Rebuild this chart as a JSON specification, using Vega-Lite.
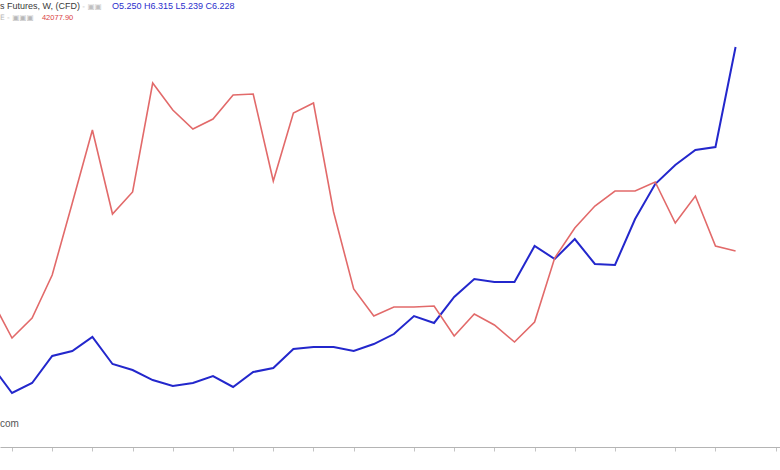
{
  "$schema": "https://vega.github.io/schema/vega-lite/v6.json",
  "width": 780,
  "height": 447,
  "padding": 0,
  "autosize": {"type": "pad"},
  "background": "#ffffff",
  "config": {"view": {"stroke": null}, "axisX": {"labels": false, "grid": false, "domainColor": "#b4b4b4", "tickColor": "#c4c4c4", "tickSize": 4, "domainWidth": 1.2}},
  "data": {
    "values": [
      {"week": -1, "blue": 3.108, "red": 40852.9},
      {"week": 0, "blue": 2.844, "red": 39902.9},
      {"week": 1, "blue": 2.942, "red": 40402.9},
      {"week": 2, "blue": 3.206, "red": 41477.9},
      {"week": 3, "blue": 3.255, "red": 43277.9},
      {"week": 4, "blue": 3.392, "red": 45102.9},
      {"week": 5, "blue": 3.128, "red": 43002.9},
      {"week": 6, "blue": 3.069, "red": 43552.9},
      {"week": 7, "blue": 2.971, "red": 46277.9},
      {"week": 8, "blue": 2.913, "red": 45602.9},
      {"week": 9, "blue": 2.942, "red": 45127.9},
      {"week": 10, "blue": 3.010, "red": 45377.9},
      {"week": 11, "blue": 2.903, "red": 45977.9},
      {"week": 12, "blue": 3.049, "red": 46002.9},
      {"week": 13, "blue": 3.089, "red": 43827.9},
      {"week": 14, "blue": 3.274, "red": 45527.9},
      {"week": 15, "blue": 3.294, "red": 45777.9},
      {"week": 16, "blue": 3.294, "red": 43052.9},
      {"week": 17, "blue": 3.255, "red": 41127.9},
      {"week": 18, "blue": 3.323, "red": 40452.9},
      {"week": 19, "blue": 3.421, "red": 40677.9},
      {"week": 20, "blue": 3.597, "red": 40677.9},
      {"week": 21, "blue": 3.529, "red": 40702.9},
      {"week": 22, "blue": 3.783, "red": 39952.9},
      {"week": 23, "blue": 3.959, "red": 40502.9},
      {"week": 24, "blue": 3.930, "red": 40227.9},
      {"week": 25, "blue": 3.930, "red": 39802.9},
      {"week": 26, "blue": 4.282, "red": 40302.9},
      {"week": 27, "blue": 4.155, "red": 41902.9},
      {"week": 28, "blue": 4.350, "red": 42652.9},
      {"week": 29, "blue": 4.106, "red": 43202.9},
      {"week": 30, "blue": 4.096, "red": 43577.9},
      {"week": 31, "blue": 4.546, "red": 43577.9},
      {"week": 32, "blue": 4.888, "red": 43802.9},
      {"week": 33, "blue": 5.074, "red": 42777.9},
      {"week": 34, "blue": 5.221, "red": 43452.9},
      {"week": 35, "blue": 5.250, "red": 42202.9},
      {"week": 36, "blue": 6.228, "red": 42077.9}
    ]
  },
  "resolve": {"scale": {"y": "independent"}},
  "layer": [
    {
      "layer": [
        {
          "mark": {"type": "line", "color": "#2327cc", "strokeWidth": 2, "clip": true},
          "encoding": {
            "x": {
              "field": "week", "type": "quantitative",
              "scale": {"domain": [-0.597, 38.21], "nice": false, "zero": false},
              "axis": {
                "title": null,
                "values": [0, 2, 4, 6, 8, 11, 13, 15, 17, 20, 22, 24, 26, 28, 30, 33, 35, 38]
              }
            },
            "y": {
              "field": "blue", "type": "quantitative",
              "scale": {"domain": [2.316, 6.688], "nice": false, "zero": false},
              "axis": null
            }
          }
        },
        {
          "data": {"values": [{}]},
          "mark": {"type": "text", "align": "left", "baseline": "alphabetic", "font": "Liberation Sans", "fontSize": 9, "color": "#3a3a3a", "text": "s Futures, W, (CFD)"},
          "encoding": {
            "x": {"datum": -0.597, "type": "quantitative", "title": null},
            "y": {"datum": 6.6, "type": "quantitative", "axis": null}
          }
        },
        {
          "data": {"values": [{}]},
          "mark": {"type": "text", "align": "left", "baseline": "alphabetic", "font": "DejaVu Sans", "fontSize": 7.5, "color": "#c0c0c0", "text": "-  ▣▣"},
          "encoding": {
            "x": {"datum": 3.5, "type": "quantitative", "title": null},
            "y": {"datum": 6.6, "type": "quantitative", "axis": null}
          }
        },
        {
          "data": {"values": [{}]},
          "mark": {"type": "text", "align": "left", "baseline": "alphabetic", "font": "Liberation Sans", "fontSize": 9, "color": "#2a2ecc", "text": "O5.250 H6.315 L5.239 C6.228"},
          "encoding": {
            "x": {"datum": 4.975, "type": "quantitative", "title": null},
            "y": {"datum": 6.6, "type": "quantitative", "axis": null}
          }
        },
        {
          "data": {"values": [{}]},
          "mark": {"type": "text", "align": "left", "baseline": "alphabetic", "font": "DejaVu Sans", "fontSize": 7.5, "color": "#b8b8b8", "text": "E -  ▣▣▣"},
          "encoding": {
            "x": {"datum": -0.597, "type": "quantitative", "title": null},
            "y": {"datum": 6.49, "type": "quantitative", "axis": null}
          }
        },
        {
          "data": {"values": [{}]},
          "mark": {"type": "text", "align": "left", "baseline": "alphabetic", "font": "Liberation Sans", "fontSize": 7.5, "color": "#d9423f", "text": "42077.90"},
          "encoding": {
            "x": {"datum": 1.49, "type": "quantitative", "title": null},
            "y": {"datum": 6.49, "type": "quantitative", "axis": null}
          }
        },
        {
          "data": {"values": [{}]},
          "mark": {"type": "text", "align": "left", "baseline": "alphabetic", "font": "Liberation Sans", "fontSize": 10, "color": "#555555", "text": "com"},
          "encoding": {
            "x": {"datum": -0.597, "type": "quantitative", "title": null},
            "y": {"datum": 2.51, "type": "quantitative", "axis": null}
          }
        }
      ]
    },
    {
      "mark": {"type": "line", "color": "#e26a6a", "strokeWidth": 1.6, "clip": true},
      "encoding": {
        "x": {"field": "week", "type": "quantitative", "title": null},
        "y": {
          "field": "red", "type": "quantitative",
          "scale": {"domain": [37177.9, 48352.9], "nice": false, "zero": false},
          "axis": null
        }
      }
    }
  ]
}
